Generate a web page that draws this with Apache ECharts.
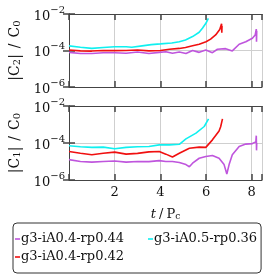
<!DOCTYPE html>
<html><head><meta charset="utf-8">
<script src="https://cdn.jsdelivr.net/npm/echarts@6/dist/echarts.min.js"></script>
<style>html,body{margin:0;padding:0;background:#fff}#c{width:278px;height:278px}</style>
</head><body><div id="c"></div>
<script>
// ---- data ----
const seriesNames = ['g3-iA0.4-rp0.44', 'g3-iA0.5-rp0.36', 'g3-iA0.4-rp0.42'];
const xTicks = [2, 4, 6, 8];
const yTickLabels = {'-6': '−6', '-4': '−4', '-2': '−2'};

// |C2|/C0 (top panel)
const c2PurpleT = [0,0.5,1,1.5,2,2.5,3,3.5,3.95,4.24,4.53,4.83,5.12,5.41,5.7,5.99,6.28,6.5,6.86,7.15,7.45,7.74,8.03,8.15,8.2,8.21,8.22];
const c2PurpleV = [7.9e-5,6.9e-5,6.8e-5,7.6e-5,7.6e-5,7.1e-5,8.3e-5,6.8e-5,7.9e-5,8.5e-5,7.1e-5,8.3e-5,6.8e-5,1.0e-4,7.9e-5,1.07e-4,7.6e-5,1.17e-4,1.26e-4,9.5e-5,2.2e-4,3.0e-4,4.7e-4,7.0e-4,1.5e-3,3.0e-4,1.2e-3];
const c2CyanT = [0,0.5,1,1.5,2,2.5,2.75,3.2,3.6,4.0,4.5,4.83,5.1,5.41,5.7,5.85,6.0,6.1];
const c2CyanV = [1.8e-4,1.5e-4,1.3e-4,1.45e-4,1.6e-4,1.6e-4,1.5e-4,1.8e-4,2.1e-4,2.3e-4,2.6e-4,3.0e-4,3.8e-4,5.8e-4,1.0e-3,1.7e-3,3.2e-3,5.8e-3];
const c2RedT = [0,0.5,1,1.5,2,2.5,3,3.5,4,4.4,4.83,5.1,5.41,5.7,6.0,6.2,6.42,6.6,6.68,6.69,6.7];
const c2RedV = [1.07e-4,9.5e-5,9.3e-5,1.0e-4,9.8e-5,1.0e-4,1.07e-4,9.5e-5,1.0e-4,1.17e-4,1.3e-4,1.45e-4,1.8e-4,2.2e-4,3.0e-4,4.2e-4,7.1e-4,1.4e-3,2.9e-3,9.5e-4,2.2e-3];

// |C1|/C0 (bottom panel)
const c1PurpleT = [0,0.5,1,1.5,2,2.5,3,3.5,3.95,4.24,4.53,4.83,5.12,5.27,5.41,5.7,5.99,6.28,6.57,6.79,6.91,7.01,7.15,7.45,7.74,8.03,8.18,8.2,8.21,8.22];
const c1PurpleV = [1.26e-5,1.0e-5,9.3e-6,1.0e-5,1.07e-5,9.3e-6,1.0e-5,9.8e-6,1.12e-5,1.0e-5,1.0e-5,8.9e-6,6.8e-6,5.2e-6,8.1e-6,1.5e-5,1.86e-5,2.1e-5,1.5e-5,6.8e-6,2.1e-6,6.8e-6,2.3e-5,6.5e-5,8.7e-5,9.3e-5,1.15e-4,2.5e-4,4.0e-5,1.0e-4];
const c1CyanT = [0,0.5,1,1.5,2,2.5,3,3.5,3.95,4.4,4.83,5.12,5.56,5.92,6.11];
const c1CyanV = [7.1e-5,6.3e-5,5.8e-5,6.0e-5,4.9e-5,5.8e-5,6.3e-5,6.5e-5,7.9e-5,7.9e-5,8.5e-5,1.66e-4,3.4e-4,7.8e-4,2.0e-3];
const c1RedT = [0,0.5,1,1.5,2,2.5,3,3.5,3.95,4.24,4.53,4.83,5.27,5.7,5.99,6.28,6.57,6.64,6.72];
const c1RedV = [3.5e-5,2.8e-5,2.3e-5,2.8e-5,3.2e-5,2.5e-5,2.75e-5,3.3e-5,3.5e-5,2.5e-5,1.74e-5,2.8e-5,5.2e-5,6.0e-5,5.8e-5,1.48e-4,4.5e-4,7.6e-4,2.0e-3];

const colors = {purple: '#BF55DD', cyan: '#10F0F0', red: '#F01010'};

// ---- chart ----
const FONT = 'DejaVu Serif';
const pair = (t, v) => t.map((x, i) => [x, v[i]]);
const frame = '#444';
const grids = [
  {left: 69, top: 14, width: 193, height: 73},
  {left: 69, top: 106, width: 193, height: 74}
];
function xAx(g, pos, labels) {
  return {
    type: 'value', gridIndex: g, position: pos, min: 0, max: 8.45, interval: 2,
    axisLine: {show: true, onZero: false, lineStyle: {color: frame, width: 1}},
    axisTick: {show: true, inside: true, length: 6, lineStyle: {color: frame, width: 1.5}},
    splitLine: {show: pos === 'bottom', lineStyle: {color: '#cfcfcf', width: 1}},
    axisLabel: {show: labels, color: '#111', fontFamily: FONT, fontSize: 13, margin: 6,
      formatter: v => xTicks.indexOf(v) >= 0 ? String(v) : ''},
    name: labels ? '{it|t}{sl|/}{n|P}{sub|c}' : '',
    nameLocation: 'middle', nameGap: 25,
    nameTextStyle: {rich: {
      it: {fontFamily: FONT, fontStyle: 'italic', fontSize: 13, color: '#111', verticalAlign: 'bottom', lineHeight: 16},
      sl: {fontFamily: FONT, fontSize: 13, color: '#111', verticalAlign: 'bottom', lineHeight: 16, padding: [0, 3, 0, 3]},
      n: {fontFamily: FONT, fontSize: 13, color: '#111', verticalAlign: 'bottom', lineHeight: 16},
      sub: {fontFamily: FONT, fontSize: 9, color: '#111', verticalAlign: 'bottom', lineHeight: 12}
    }}
  };
}
function yAx(g, pos, labels, k) {
  return {
    type: 'log', logBase: 10, gridIndex: g, position: pos, min: 1e-6, max: 1e-2, interval: 2,
    axisLine: {show: true, lineStyle: {color: frame, width: 1}},
    axisTick: {show: true, inside: true, length: 6, lineStyle: {color: frame, width: 1.5}},
    splitLine: {show: pos === 'left', lineStyle: {color: '#cfcfcf', width: 1}},
    minorTick: {show: false},
    axisLabel: {show: labels, margin: 4, formatter: v => {
        const e = Math.round(Math.log10(v));
        return '{b|10}{s|' + (yTickLabels[String(e)] || ('−' + (-e))) + '}';
      },
      rich: {
        b: {fontFamily: FONT, fontSize: 13, color: '#111', verticalAlign: 'bottom', lineHeight: 18},
        s: {fontFamily: FONT, fontSize: 10, color: '#111', verticalAlign: 'top', lineHeight: 10}
      }},
    name: labels ? '{n||C}{sub|' + k + '}{n||}{sl|/}{n|C}{sub|0}' : '',
    nameLocation: 'middle', nameGap: 41,
    nameTextStyle: {rich: {
      n: {fontFamily: FONT, fontSize: 14, color: '#111', verticalAlign: 'bottom', lineHeight: 17},
      sl: {fontFamily: FONT, fontSize: 14, color: '#111', verticalAlign: 'bottom', lineHeight: 17, padding: [0, 6, 0, 6]},
      sub: {fontFamily: FONT, fontSize: 10, color: '#111', verticalAlign: 'bottom', lineHeight: 13}
    }}
  };
}
function line(name, data, color, xi, yi) {
  return {type: 'line', name, data, xAxisIndex: xi, yAxisIndex: yi, showSymbol: false, symbol: 'none',
    lineStyle: {color, width: 1.6}, itemStyle: {color}, animation: false, z: 3};
}
const option = {
  animation: false,
  grid: grids,
  xAxis: [xAx(0, 'bottom', false), xAx(0, 'top', false), xAx(1, 'bottom', true), xAx(1, 'top', false)],
  yAxis: [yAx(0, 'left', true, '2'), yAx(0, 'right', false), yAx(1, 'left', true, '1'), yAx(1, 'right', false)],
  legend: {
    data: seriesNames, left: 13, top: 223, width: 252, orient: 'horizontal',
    icon: 'rect', itemWidth: 5, itemHeight: 1.6, itemGap: 4,
    padding: [9, 4, 9, 2],
    borderColor: '#333', borderWidth: 1, borderRadius: 4,
    formatter: name => name === seriesNames[0] ? '{w|' + name + '}' : name,
    textStyle: {fontFamily: FONT, fontSize: 13, color: '#111', padding: [0, 0, 0, -4], lineHeight: 14,
      rich: {w: {width: 123, fontFamily: FONT, fontSize: 13, color: '#111', lineHeight: 14}}}
  },
  series: [
    line(seriesNames[0], pair(c2PurpleT, c2PurpleV), colors.purple, 0, 0),
    line(seriesNames[2], pair(c2RedT, c2RedV), colors.red, 0, 0),
    line(seriesNames[1], pair(c2CyanT, c2CyanV), colors.cyan, 0, 0),
    line(seriesNames[0], pair(c1PurpleT, c1PurpleV), colors.purple, 2, 2),
    line(seriesNames[2], pair(c1RedT, c1RedV), colors.red, 2, 2),
    line(seriesNames[1], pair(c1CyanT, c1CyanV), colors.cyan, 2, 2)
  ]
};
echarts.init(document.getElementById('c'), null, {renderer: 'canvas'}).setOption(option);
</script></body></html>
